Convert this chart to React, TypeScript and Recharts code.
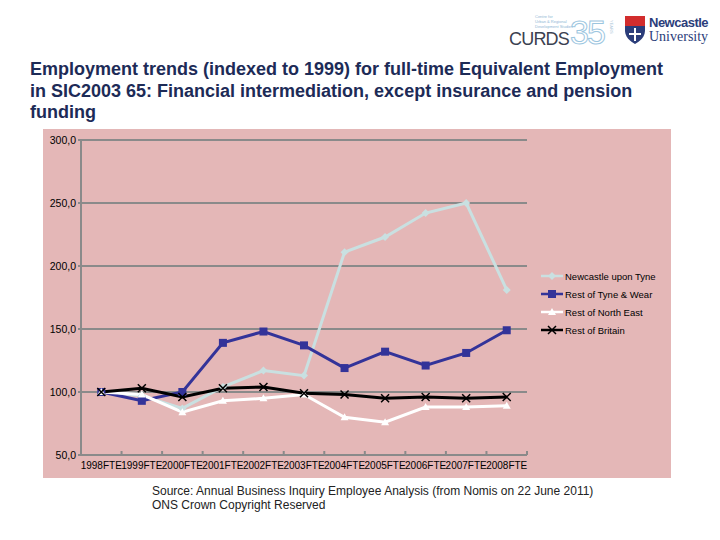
import React from "react";
import { LineChart, Line, XAxis, YAxis, CartesianGrid } from "recharts";

// categories + series
const years = ["1998FTE", "1999FTE", "2000FTE", "2001FTE", "2002FTE", "2003FTE", "2004FTE", "2005FTE", "2006FTE", "2007FTE", "2008FTE"];
const newcastle = [100, 97, 87, 104, 117, 113, 211, 223, 242, 250, 181];
const tyneWear = [100, 93, 100, 139, 148, 137, 119, 132, 121, 131, 149];
const northEast = [100, 98, 84, 93, 95, 98, 80, 76, 88, 88, 89];
const britain = [100, 103, 96, 103, 104, 99, 98, 95, 96, 95, 96];
const yTicks = [50, 100, 150, 200, 250, 300];

const data = years.map((y, i) => ({
  year: y,
  ncl: newcastle[i],
  tw: tyneWear[i],
  ne: northEast[i],
  gb: britain[i],
}));

const FONT = "'Liberation Sans', Arial, sans-serif";
const GRID = "#8a8a8a";
const CHART_W = 628;
const CHART_H = 349;
const M = { top: 11, right: 144, left: 0, bottom: 0 };
const Y_W = 38;
const BAND = (CHART_W - M.left - M.right - Y_W) / years.length;

const series = [
  { key: "ncl", name: "Newcastle upon Tyne", color: "#c9e0e1", shape: "diamond" },
  { key: "tw", name: "Rest of Tyne & Wear", color: "#333399", shape: "square" },
  { key: "ne", name: "Rest of North East", color: "#ffffff", shape: "triangle" },
  { key: "gb", name: "Rest of Britain", color: "#000000", shape: "cross" },
];

function Marker({ cx, cy, shape, color }: any) {
  if (cx == null || cy == null) return null;
  if (shape === "diamond")
    return <path d={`M${cx},${cy - 4}L${cx + 4},${cy}L${cx},${cy + 4}L${cx - 4},${cy}Z`} fill={color} />;
  if (shape === "square") return <rect x={cx - 4} y={cy - 4} width={8} height={8} fill={color} />;
  if (shape === "triangle")
    return <path d={`M${cx},${cy - 4}L${cx + 4},${cy + 3}L${cx - 4},${cy + 3}Z`} fill={color} />;
  return (
    <path d={`M${cx - 4},${cy - 4}L${cx + 4},${cy + 4}M${cx + 4},${cy - 4}L${cx - 4},${cy + 4}`} stroke={color} strokeWidth={1.5} />
  );
}

function XTick({ x, y, payload, index }: any) {
  const left = x - BAND / 2;
  const last = index === years.length - 1;
  return (
    <g>
      <line x1={left} y1={y - 8} x2={left} y2={y - 12} stroke={GRID} strokeWidth={2} />
      {last && <line x1={x + BAND / 2} y1={y - 8} x2={x + BAND / 2} y2={y - 12} stroke={GRID} strokeWidth={2} />}
      <text x={x} y={y + 6} textAnchor="middle" fontSize={10} fontFamily={FONT} fill="#000">
        {payload.value}
      </text>
    </g>
  );
}

function LegendBox() {
  return (
    <div style={{ position: "absolute", left: 541, top: 267, fontFamily: FONT, fontSize: 9.5, color: "#000" }}>
      {series.map((s) => (
        <div key={s.key} style={{ display: "flex", alignItems: "center", height: 18 }}>
          <svg width={22} height={10} style={{ marginRight: 2 }}>
            <line x1={0} y1={5} x2={22} y2={5} stroke={s.color} strokeWidth={2.5} />
            <Marker cx={11} cy={5} shape={s.shape} color={s.color} />
          </svg>
          <span>{s.name}</span>
        </div>
      ))}
    </div>
  );
}

function Logos() {
  return (
    <div style={{ position: "absolute", left: 505, top: 10, width: 210, height: 40, fontFamily: FONT }}>
      <div style={{ position: "absolute", left: 30, top: 4, fontSize: 4, lineHeight: "5px", color: "#8fb7d4" }}>
        Centre for<br />Urban &amp; Regional<br />Development Studies
      </div>
      <div style={{ position: "absolute", left: 4, top: 19, fontSize: 18, color: "#3b4150", letterSpacing: -0.8 }}>CURDS</div>
      <div style={{ position: "absolute", left: 65, top: 3, fontSize: 34, fontWeight: 300, color: "#ffffff", WebkitTextStroke: "1px #9cc6df", letterSpacing: -2 }}>35</div>
      <div style={{ position: "absolute", left: 104, top: 10, fontSize: 4, color: "#b0c9da", writingMode: "vertical-rl" }}>YEARS</div>
      <svg style={{ position: "absolute", left: 119, top: 5 }} width={22} height={30}>
        <path d="M1,1H21V16C21,24 11,29 11,29C11,29 1,24 1,16Z" fill="#2b3d7a" />
        <rect x={1} y={1} width={20} height={10} fill="#d22d2d" />
        <path d="M11,13V26M5,19H17" stroke="#ffffff" strokeWidth={2} />
      </svg>
      <div style={{ position: "absolute", left: 144, top: 5, fontSize: 13, fontWeight: "bold", color: "#2b3d7a", letterSpacing: -0.5 }}>Newcastle</div>
      <div style={{ position: "absolute", left: 144, top: 19, fontSize: 14, fontFamily: "'Liberation Serif', serif", color: "#2b3d7a" }}>University</div>
    </div>
  );
}

export default function App() {
  return (
    <div style={{ position: "absolute", left: 0, top: 0, width: 720, height: 540, background: "#fff", overflow: "hidden" }}>
      <Logos />
      <div
        style={{
          position: "absolute",
          left: 30,
          top: 59,
          fontFamily: FONT,
          fontWeight: "bold",
          fontSize: 18,
          lineHeight: "21.5px",
          color: "#1d2b57",
          whiteSpace: "nowrap",
        }}
      >
        Employment trends (indexed to 1999) for full-time Equivalent Employment
        <br />
        in SIC2003 65: Financial intermediation, except insurance and pension
        <br />
        funding
      </div>
      <div style={{ position: "absolute", left: 43, top: 129, width: CHART_W, height: CHART_H, background: "#e4b7b7" }}>
        <LineChart width={CHART_W} height={CHART_H} data={data} margin={M}>
          <CartesianGrid vertical={false} stroke={GRID} strokeWidth={2} />
          <XAxis
            dataKey="year"
            interval={0}
            height={23}
            axisLine={false}
            tickLine={false}
            padding={{ left: BAND / 2, right: BAND / 2 }}
            tick={<XTick />}
          />
          <YAxis
            width={Y_W}
            domain={[50, 300]}
            ticks={yTicks}
            interval={0}
            axisLine={{ stroke: GRID, strokeWidth: 2 }}
            tickLine={{ stroke: GRID, strokeWidth: 2 }}
            tickSize={3}
            tickFormatter={(v: number) => v.toFixed(1).replace(".", ",")}
            tick={{ fontSize: 10.5, fontFamily: FONT, fill: "#000" }}
          />
          {series.map((s) => (
            <Line
              key={s.key}
              dataKey={s.key}
              name={s.name}
              stroke={s.color}
              strokeWidth={3}
              isAnimationActive={false}
              dot={(p: any) => <Marker key={`${s.key}-${p.index}`} cx={p.cx} cy={p.cy} shape={s.shape} color={s.color} />}
              activeDot={false}
            />
          ))}
        </LineChart>
      </div>
      <LegendBox />
      <div style={{ position: "absolute", left: 152, top: 484, fontFamily: FONT, fontSize: 12, lineHeight: "14px", color: "#222" }}>
        Source: Annual Business Inquiry Employee Analysis (from Nomis on 22 June 2011)
        <br />
        ONS Crown Copyright Reserved
      </div>
    </div>
  );
}
